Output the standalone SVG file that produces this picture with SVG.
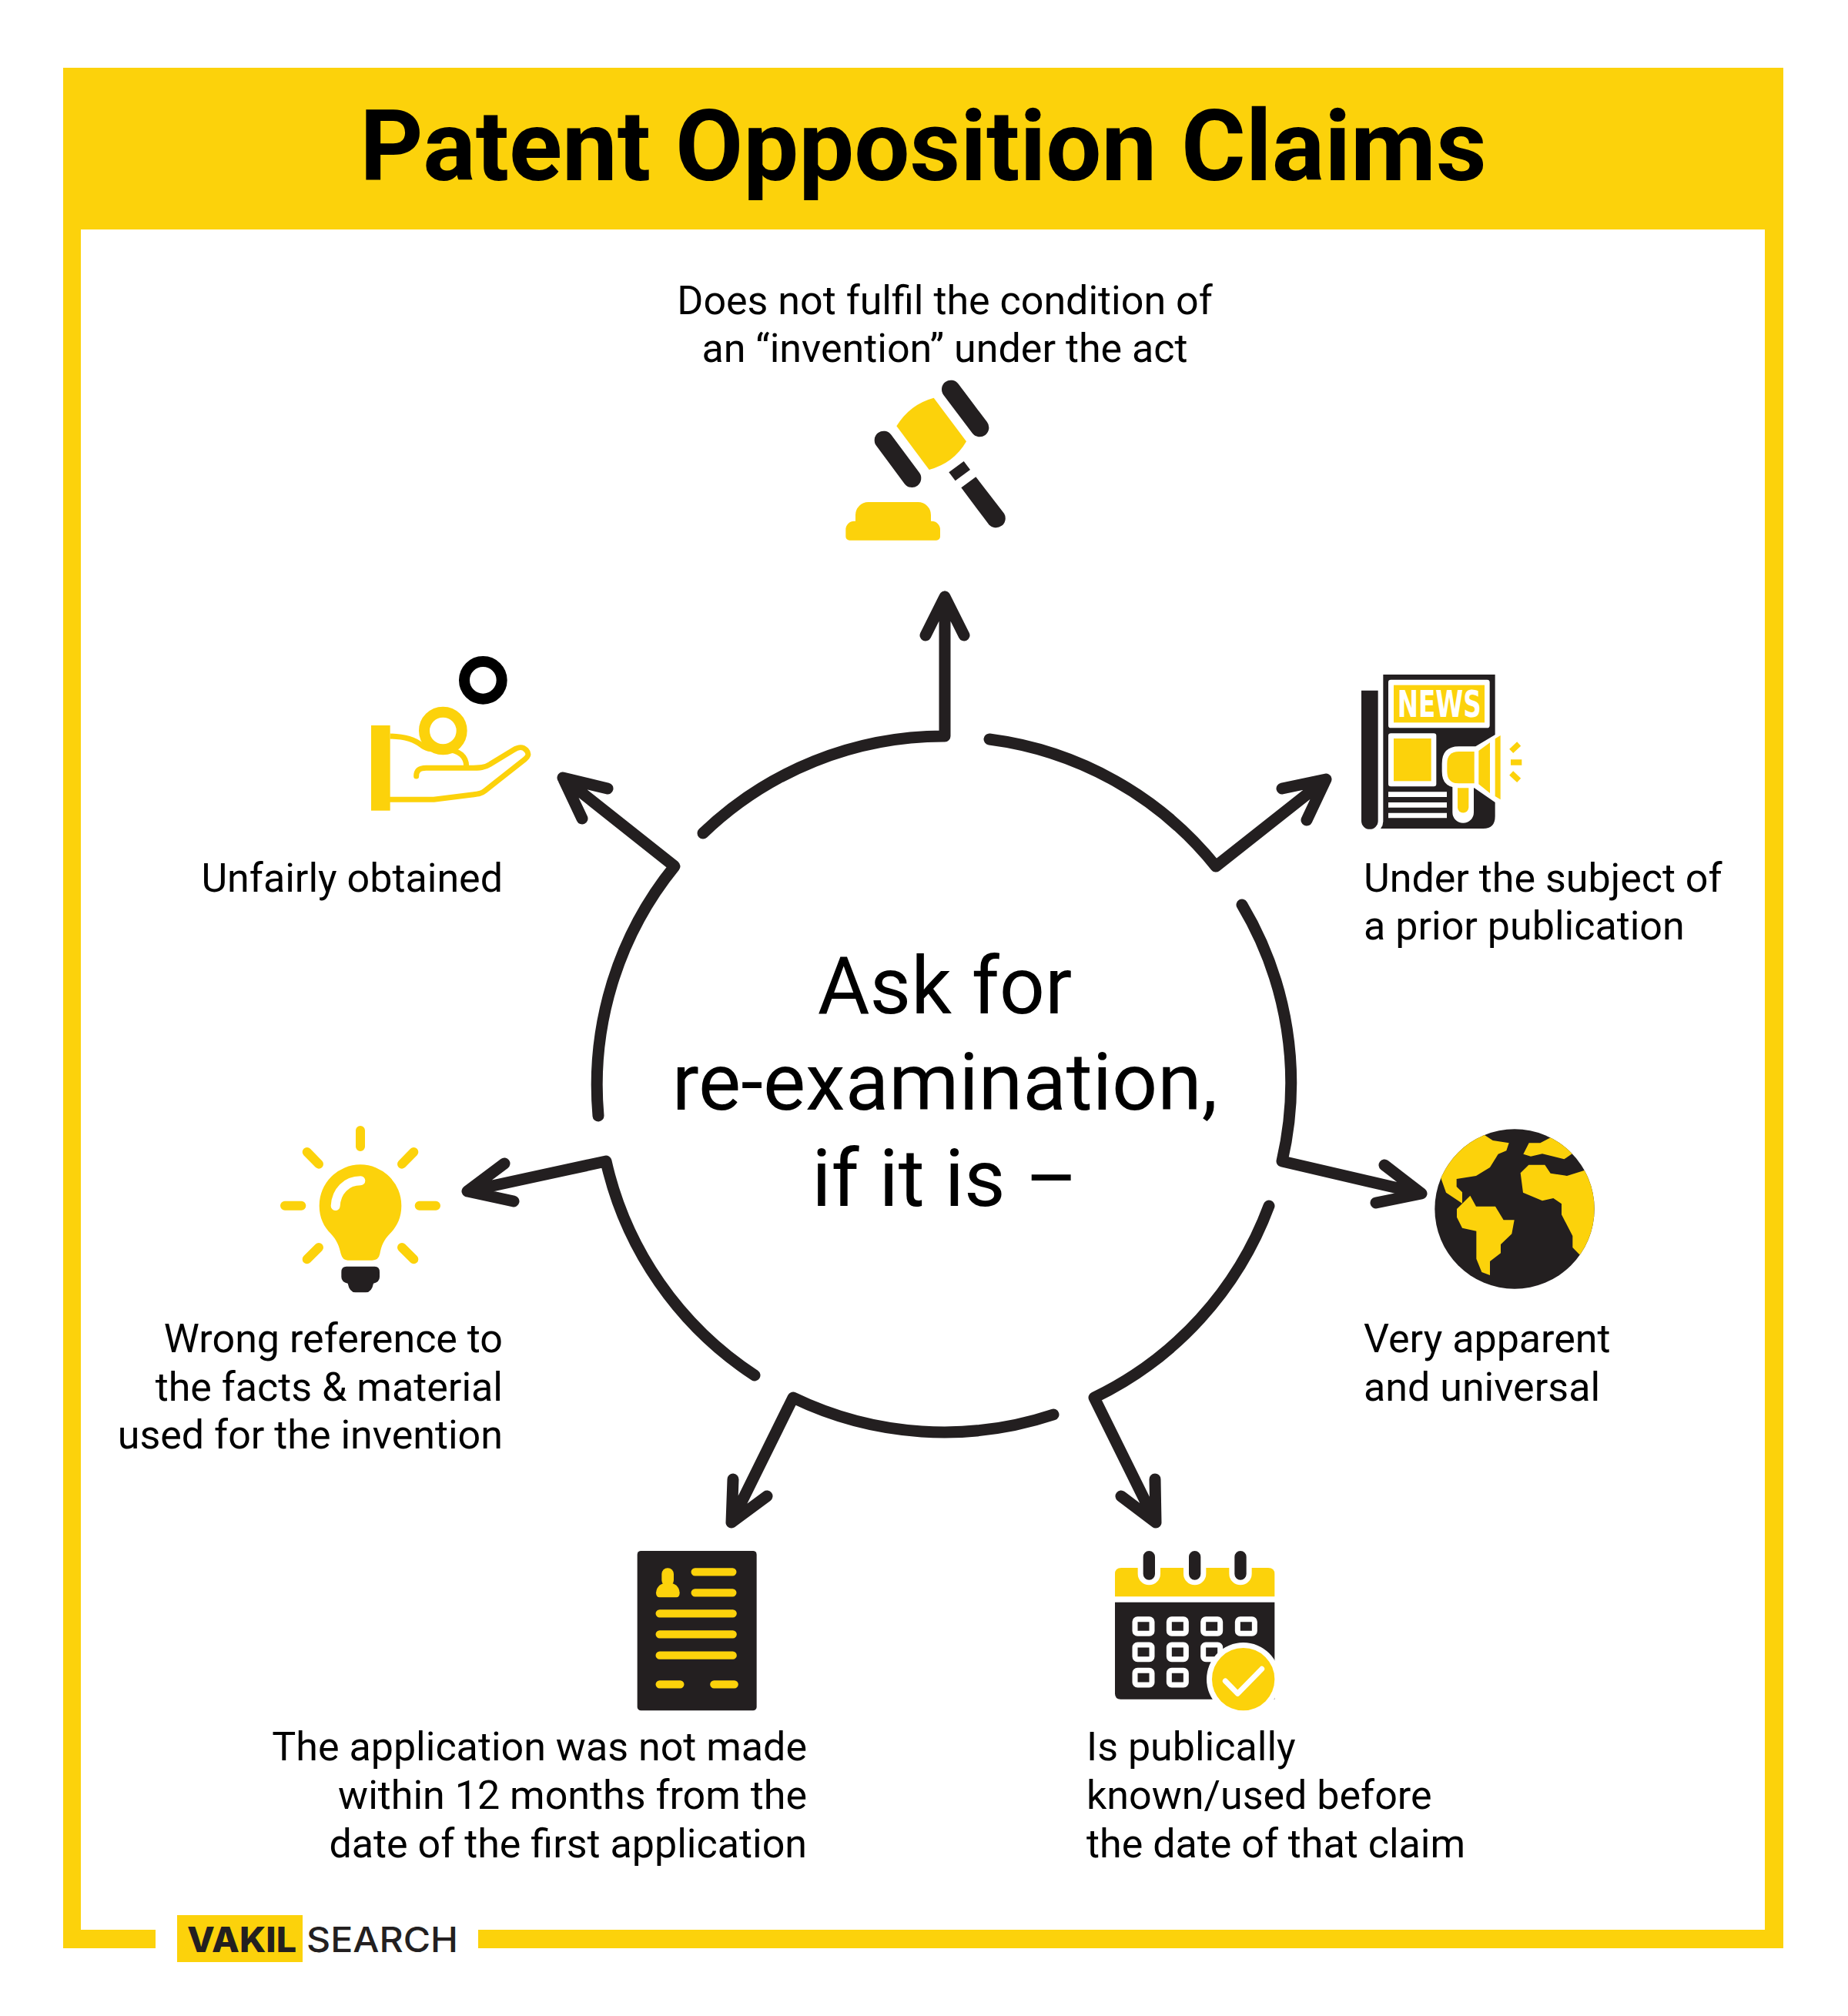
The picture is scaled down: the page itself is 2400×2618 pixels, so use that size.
<svg xmlns="http://www.w3.org/2000/svg" width="2400" height="2618" viewBox="0 0 2400 2618">
<style>
.y{fill:#FCD20B}.d{fill:#231F20}.w{fill:#fff}
.ys{fill:none;stroke:#FCD20B;stroke-linecap:round;stroke-linejoin:round}
.ws{fill:none;stroke:#fff;stroke-linecap:round;stroke-linejoin:round}
.lbl{font-family:Roboto,"Liberation Sans",sans-serif;font-size:52px;fill:#000}
.r{text-anchor:end}.m{text-anchor:middle}
.con{fill:none;stroke:#231F20;stroke-width:15;stroke-linecap:round;stroke-linejoin:round}
</style>
<defs><clipPath id="gc"><circle cx="387" cy="360" r="311"/></clipPath></defs>
<rect width="2400" height="2618" fill="#fff"/>
<g id="frame">
<rect class="y" x="82" y="88" width="2234" height="210"/>
<rect class="y" x="82" y="88" width="23" height="2442"/>
<rect class="y" x="2292" y="88" width="24" height="2442"/>
<rect class="y" x="82" y="2506" width="120" height="24"/>
<rect class="y" x="621" y="2506" width="1695" height="24"/>
</g>
<text id="title" x="1199" y="234" text-anchor="middle" font-family="Roboto,'Liberation Sans',sans-serif" font-weight="700" font-size="128" fill="#000">Patent Opposition Claims</text>
<g id="connectors" class="con">
<path d="M913 1082A451 451 0 0 1 1227 956L1227 775M1202 825L1227 775L1252 825"/>
<path d="M1285 960A451 451 0 0 1 1579 1125L1722 1012M1665 1024L1722 1012L1697 1065"/>
<path d="M1613 1175A451 451 0 0 1 1665 1508L1846 1550M1798 1513L1846 1550L1787 1562"/>
<path d="M1648 1566A451 451 0 0 1 1421 1815L1501 1977M1500 1921L1501 1977L1456 1943"/>
<path d="M1368 1837A451 451 0 0 1 1030 1815L950 1977M952 1921L950 1977L996 1943"/>
<path d="M980 1786A451 451 0 0 1 787 1508L607 1547M655 1511L607 1547L667 1560"/>
<path d="M777 1449A451 451 0 0 1 876 1125L731 1010M789 1024L731 1010L756 1063"/>
</g>
<g id="center" font-family="Roboto,'Liberation Sans',sans-serif" font-size="104" text-anchor="middle" fill="#000">
<text x="1227" y="1316">Ask for</text>
<text x="1227" y="1441">re-examination,</text>
<text x="1227" y="1566">if it is –</text>
</g>
<g id="node-invention">
<g transform="translate(1050 460) scale(.33333)">
<path class="d" d="M555 137L667 286" stroke="#231F20" stroke-width="72" stroke-linecap="round"/>
<path class="d" d="M293 335L403 483" stroke="#231F20" stroke-width="72" stroke-linecap="round"/>
<path class="y" d="M343 280Q395 195 488 170L615 340Q565 425 470 450Z"/>
<path class="d" d="M605 417L630 450L572 493L547 460Z"/>
<path class="d" d="M652 478L595 520L703 664A37 37 0 0 0 762 620Z"/>
<path class="y" d="M183 650V626A50 50 0 0 1 233 576H427A50 50 0 0 1 477 626V650H480A33 33 0 0 1 513 683V710A15 15 0 0 1 498 725H160A15 15 0 0 1 145 710V683A33 33 0 0 1 178 650Z"/>
</g>
<text class="lbl m" x="1227" y="408">Does not fulfil the condition of</text>
<text class="lbl m" x="1227" y="470">an “invention” under the act</text>
</g>
<g id="node-publication">
<g transform="translate(1738 860) scale(.33333)">
<path class="d" d="M175 48H611V600Q611 648 565 648H165Q175 635 175 620Z"/>
<path class="d" d="M90 110H155V618A32 32 0 0 1 90 618Z"/>
<rect class="w" x="195" y="68" width="395" height="188" rx="10"/>
<rect class="y" x="216" y="89" width="354" height="146"/>
<text x="230" y="213" textLength="327" lengthAdjust="spacingAndGlyphs" font-family="'DejaVu Sans',sans-serif" font-weight="700" font-size="144" fill="#fff">NEWS</text>
<rect class="w" x="195" y="277" width="187" height="207" rx="10"/>
<rect class="y" x="216" y="297" width="146" height="166"/>
<path class="w" d="M195 505H423V525H195ZM195 546H423V566H195ZM195 587H423V607H195Z"/>
<path class="w" d="M445 470H528V585A41 41 0 0 1 445 585Z"/>
<path class="w" d="M632 270V560L530 490H470Q404 490 404 425V395Q404 328 470 328H535Z"/>
<path class="y" d="M465 490H508V565A21 21 0 0 1 465 565Z"/>
<path class="y" d="M530 348H470Q424 348 424 395V425Q424 472 470 472H530Z"/>
<path class="y" d="M547 345L591 313V510L547 475ZM611 298L632 285V535L611 522Z"/>
<path class="ys" stroke-width="22" style="stroke-linecap:butt" d="M674 346L704 318M672 390H715M674 432L704 460"/>
</g>
<text class="lbl" x="1771" y="1158">Under the subject of</text>
<text class="lbl" x="1771" y="1220">a prior publication</text>
</g>
<g id="node-universal">
<g transform="translate(1838 1450) scale(.33333)">
<circle class="d" cx="387" cy="360" r="311"/>
<g clip-path="url(#gc)" class="y">
<path d="M270 72L302 93L365 103L355 133L323 146L291 198L237 231L161 243V273L183 295V338L120 296L100 240L60 100L200 20Z"/>
<path d="M214 308L237 350H312L344 403H386L376 457L333 498V532L291 564V618L259 606L238 554V446L183 434L162 392V360Z"/>
<path d="M443 103H487L527 82L560 40L680 120L611 145L580 166L495 145L450 155L421 146Z"/>
<path d="M442 188H505L527 221L591 231L658 210L720 200L730 500L640 538L613 510V465L570 382V340L538 318L495 328L420 296L410 220Z"/>
</g>
</g>
<text class="lbl" x="1771" y="1756">Very apparent</text>
<text class="lbl" x="1771" y="1819">and universal</text>
</g>
<g id="node-known">
<g transform="translate(1418 2000) scale(.33333)">
<path class="y" d="M90 220V132Q90 108 115 108H687Q712 108 712 132V220Z"/>
<path class="w" d="M179 100H267V131A44 44 0 0 1 179 131ZM357 100H445V131A44 44 0 0 1 357 131ZM535 100H623V131A44 44 0 0 1 535 131Z"/>
<path class="d" d="M200 65A23 23 0 0 1 246 65V132A23 23 0 0 1 200 132ZM378 65A23 23 0 0 1 424 65V132A23 23 0 0 1 378 132ZM556 65A23 23 0 0 1 602 65V132A23 23 0 0 1 556 132Z"/>
<path class="d" d="M90 242H712V620H112Q90 620 90 598Z"/>
<g fill="none" stroke="#fff" stroke-width="21">
<rect x="168" y="308" width="66" height="56" rx="10"/><rect x="301" y="308" width="66" height="56" rx="10"/><rect x="434" y="308" width="66" height="56" rx="10"/><rect x="568" y="308" width="66" height="56" rx="10"/>
<rect x="168" y="408" width="66" height="56" rx="10"/><rect x="301" y="408" width="66" height="56" rx="10"/><rect x="434" y="408" width="66" height="56" rx="10"/>
<rect x="168" y="508" width="66" height="56" rx="10"/><rect x="301" y="508" width="66" height="56" rx="10"/>
</g>
<circle class="w" cx="590" cy="542" r="143"/>
<circle class="y" cx="590" cy="542" r="122"/>
<path class="ws" stroke-width="21" d="M520 549L568 598L662 502"/>
</g>
<text class="lbl" x="1411" y="2286">Is publically</text>
<text class="lbl" x="1411" y="2349">known/used before</text>
<text class="lbl" x="1411" y="2412">the date of that claim</text>
</g>
<g id="node-application">
<g transform="translate(810 2000) scale(.33333)">
<rect class="d" x="53" y="42" width="465" height="622" rx="14"/>
<path class="ys" stroke-width="31" d="M278 124H424M278 205H424M140 286H425M140 367H425M140 449H425M140 562H220M352 562H431"/>
<rect class="y" x="148" y="109" width="47" height="70" rx="23"/>
<path class="y" d="M126 205Q130 168 172 166Q215 168 218 205Q218 223 205 223H140Q126 223 126 205Z"/>
</g>
<text class="lbl r" x="1048" y="2286">The application was not made</text>
<text class="lbl r" x="1048" y="2349">within 12 months from the</text>
<text class="lbl r" x="1048" y="2412">date of the first application</text>
</g>
<g id="node-wrong-reference">
<g transform="translate(350 1450) scale(.33333)">
<path class="ys" stroke-width="36" d="M354 54V117M146 138L192 185M562 138L516 185M60 347H124M584 347H648M192 510L146 556M516 510L562 556"/>
<path class="y" d="M194 347A160 160 0 1 1 514 347C514 395 495 430 470 455C445 480 435 505 430 535Q425 560 400 560H305Q285 560 278 535C272 505 262 480 238 455C213 430 194 395 194 347Z"/>
<path class="ws" stroke-width="36" d="M257 348C260 290 300 250 355 250"/>
<path class="d" d="M280 605Q280 584 300 584H410Q429 584 429 605V625Q429 645 405 650Q398 685 375 685H335Q312 685 305 650Q280 645 280 625Z"/>
</g>
<text class="lbl r" x="653" y="1756">Wrong reference to</text>
<text class="lbl r" x="653" y="1819">the facts &amp; material</text>
<text class="lbl r" x="653" y="1881">used for the invention</text>
</g>
<g id="node-unfair">
<g transform="translate(440 830) scale(.33333)">
<circle cx="562" cy="160" r="73" fill="none" stroke="#000" stroke-width="42"/>
<circle cx="406" cy="357" r="73" fill="none" stroke="#FCD20B" stroke-width="42"/>
<rect class="y" x="126" y="336" width="74" height="332"/>
<path class="ys" stroke-width="21" style="stroke-linecap:butt" d="M200 378C260 380 295 390 325 415C345 430 370 431 420 431C470 431 497 460 497 495"/>
<path class="ys" stroke-width="21" d="M302 534C302 510 315 502 340 502H510C550 502 570 500 590 487L680 432C700 420 715 417 730 432C745 448 735 460 725 468L570 590C555 602 545 603 520 606L370 625H200"/>
</g>
<text class="lbl r" x="653" y="1158">Unfairly obtained</text>
</g>
<g id="logo">
<rect class="y" x="230" y="2487" width="163" height="61"/>
<text x="243" y="2535" textLength="142" lengthAdjust="spacingAndGlyphs" font-family="Inter,'Liberation Sans',sans-serif" font-weight="800" font-size="45" fill="#231F20">VAKIL</text>
<text x="398" y="2535" textLength="197" lengthAdjust="spacingAndGlyphs" font-family="Inter,'Liberation Sans',sans-serif" font-weight="500" font-size="45" fill="#231F20">SEARCH</text>
</g>
</svg>
